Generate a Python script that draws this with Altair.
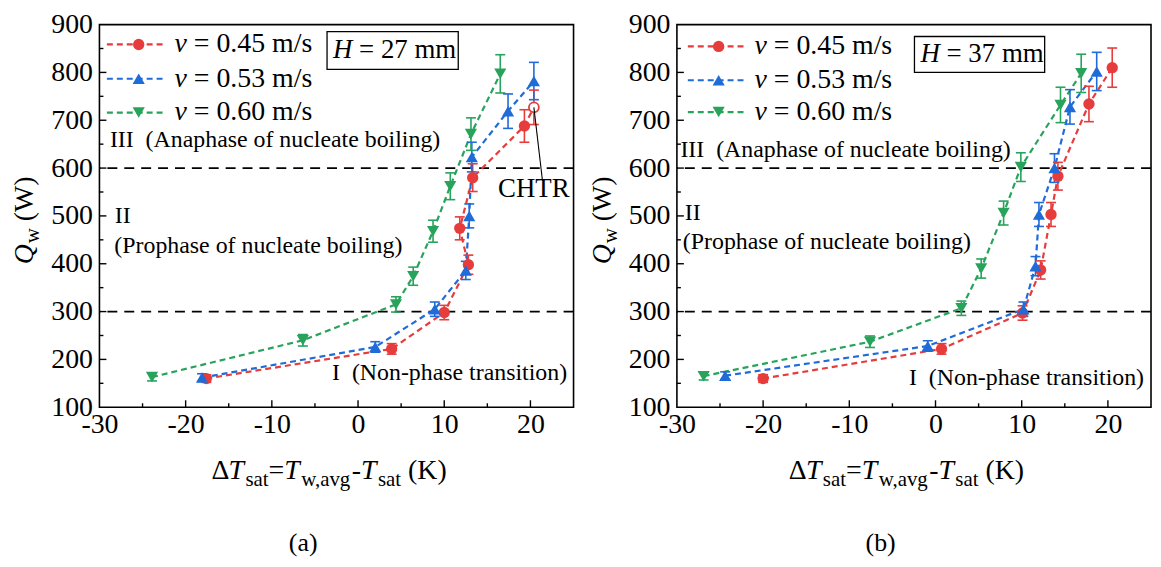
import altair as alt
import pandas as pd

FONT = "Liberation Serif"

SPEEDS = ["0.45", "0.53", "0.60"]
COLORS = ["#e63c3c", "#1f6bd8", "#27a35b"]
SHAPES = ["circle", "triangle-up", "triangle-down"]

# ---------------- (a) H = 27 mm ----------------
A_DT_045 = [-17.6, 3.9, 10.0, 12.8, 11.8, 13.3, 19.3, 20.4]
A_Q_045 = [160, 222, 298, 398, 474, 580, 688, 727]
A_ERR_045 = [8, 11, 15, 20, 24, 29, 34, 36]
A_OPEN_045 = [0, 0, 0, 0, 0, 0, 0, 1]   # last point = CHTR (open symbol)

A_DT_053 = [-18.1, 2.0, 8.9, 12.5, 12.9, 13.2, 17.4, 20.4]
A_Q_053 = [162, 226, 305, 386, 500, 623, 719, 782]
A_ERR_053 = [8, 11, 15, 19, 25, 31, 36, 39]

A_DT_060 = [-23.9, -6.4, 4.4, 6.4, 8.7, 10.7, 13.1, 16.5]
A_Q_060 = [163, 240, 315, 374, 468, 562, 671, 797]
A_ERR_060 = [8, 12, 16, 19, 23, 28, 34, 40]

# ---------------- (b) H = 37 mm ----------------
B_DT_045 = [-20.0, 0.7, 10.1, 12.2, 13.4, 14.2, 17.8, 20.5]
B_Q_045 = [160, 222, 297, 387, 503, 583, 734, 810]
B_ERR_045 = [8, 11, 15, 19, 25, 29, 37, 41]

B_DT_053 = [-24.4, -0.9, 10.2, 11.6, 12.0, 13.8, 15.6, 18.7]
B_Q_053 = [166, 228, 305, 395, 503, 600, 728, 802]
B_ERR_053 = [8, 11, 15, 20, 25, 30, 36, 40]

B_DT_060 = [-26.9, -7.6, 3.0, 5.3, 7.9, 9.9, 14.5, 16.9]
B_Q_060 = [165, 237, 307, 390, 506, 602, 732, 798]
B_ERR_060 = [8, 12, 15, 20, 25, 30, 37, 40]

# axes
X_DOMAIN = [-30, 25]
Y_DOMAIN = [100, 900]
X_LABELS = [-30, -20, -10, 0, 10, 20]
Y_LABELS = [100, 200, 300, 400, 500, 600, 700, 800, 900]
X_MAJOR = [-20, -10, 0, 10, 20]
X_MINOR = [-25, -15, -5, 5, 15]
Y_MAJOR = [200, 300, 400, 500, 600, 700, 800]
Y_MINOR = [150, 250, 350, 450, 550, 650, 750, 850]
BOUNDARIES = [300, 600]

REGION_III = "III\u00a0\u00a0(Anaphase of nucleate boiling)"
REGION_II = "II"
REGION_II_SUB = "(Prophase of nucleate boiling)"
REGION_I = "I\u00a0\u00a0(Non-phase transition)"
CHTR = "CHTR"

W, H = 477, 385
MAIN = 28
SUB = 21
MSIZE = {"circle": 130, "triangle-up": 150, "triangle-down": 150}

DUMMY = pd.DataFrame({"d": [0]})

REG_W = {"Δ": .612, " ": .25, "\u00a0": .25, "(": .333, ")": .333, "-": .333, "=": .564,
         ",": .25, "K": .722, "W": .944, "s": .389, "a": .444, "t": .278, "w": .722,
         "v": .5, "g": .5, "m": .778, "/": .278, ".": .25, "0": .5, "1": .5, "2": .5,
         "3": .5, "4": .5, "5": .5, "6": .5, "7": .5, "8": .5, "9": .5}
IT_W = {"T": .556, "Q": .722, "H": .722, "v": .444}


def tw(s, size, italic=False):
    tab = IT_W if italic else REG_W
    return sum(tab.get(c, .5) for c in s) * size


def build(dts, qs, errs, opens):
    rows = []
    for sp, xs, ys, es, ops in zip(SPEEDS, dts, qs, errs, opens):
        for i, (x, q, e, o) in enumerate(zip(xs, ys, es, ops)):
            rows.append(dict(speed=sp, dT=x, Q=q, lo=q - e, hi=q + e, i=i, open=o))
    return pd.DataFrame(rows)


SX = alt.Scale(domain=X_DOMAIN, nice=False, zero=False)
SY = alt.Scale(domain=Y_DOMAIN, nice=False, zero=False)
AX_X = alt.Axis(values=X_LABELS, ticks=False, tickSize=0, domain=False, grid=False,
                labelFont=FONT, labelFontSize=MAIN, labelColor="black", labelPadding=3,
                labelFlush=False, labelOverlap=False, labelExpr="'' + datum.value", title=None)
AX_Y = alt.Axis(values=Y_LABELS, ticks=False, tickSize=0, domain=False, grid=False,
                labelFont=FONT, labelFontSize=MAIN, labelColor="black", labelPadding=7,
                labelOverlap=False, labelExpr="'' + datum.value", title=None)


def X(f):
    return alt.X(f, type="quantitative", scale=SX, axis=AX_X)


def Y(f):
    return alt.Y(f, type="quantitative", scale=SY, axis=AX_Y)


COLOR = alt.Color("speed:N", scale=alt.Scale(domain=SPEEDS, range=COLORS), legend=None)
SHAPE = alt.Shape("speed:N", scale=alt.Scale(domain=SPEEDS, range=SHAPES), legend=None)


def text(txt, x, y, size, italic=False, align="left", baseline="middle", angle=None):
    m = dict(text=txt, font=FONT, fontSize=size, color="black", align=align, baseline=baseline)
    if italic:
        m["fontStyle"] = "italic"
    if angle is not None:
        m["angle"] = angle
    return alt.Chart(DUMMY).mark_text(**m).encode(x=alt.value(x), y=alt.value(y))


def panel(df, cfg):
    base = alt.Chart(df)
    layers = []
    layers.append(alt.Chart(pd.DataFrame({"Q": BOUNDARIES})).mark_rule(
        color="black", strokeDash=[10, 7], strokeWidth=1.8).encode(y=Y("Q")))
    layers.append(base.mark_line(strokeDash=[6, 4], strokeWidth=2.2).encode(
        x=X("dT"), y=Y("Q"), color=COLOR, detail="speed:N", order="i:Q"))
    layers.append(base.mark_rule(strokeWidth=1.6).encode(
        x=X("dT"), y=Y("lo"), y2="hi:Q", color=COLOR))
    for f in ["lo", "hi"]:
        layers.append(base.mark_tick(orient="horizontal", size=10, thickness=1.6, opacity=1).encode(
            x=X("dT"), y=Y(f), color=COLOR))
    for sp, c, s in zip(SPEEDS, COLORS, SHAPES):
        layers.append(base.transform_filter(f"datum.open == 0 && datum.speed == '{sp}'").mark_point(
            filled=True, shape=s, size=MSIZE[s], opacity=1, color=c).encode(x=X("dT"), y=Y("Q")))
    layers.append(base.transform_filter("datum.open == 1").mark_point(
        filled=False, fill="white", shape="circle", size=100, strokeWidth=1.8, opacity=1,
        color=COLORS[0]).encode(x=X("dT"), y=Y("Q")))

    # CHTR pointer
    if cfg.get("chtr"):
        op = df[df["open"] == 1].iloc[0]
        arr = pd.DataFrame({"dT": [op["dT"]], "Q": [op["Q"]],
                            "dT2": [cfg["chtr_end"][0]], "Q2": [cfg["chtr_end"][1]]})
        layers.append(alt.Chart(arr).mark_rule(color="black", strokeWidth=1.1).encode(
            x=X("dT"), y=Y("Q"), x2="dT2:Q", y2="Q2:Q"))
        layers.append(text(CHTR, cfg["chtr_xy"][0], cfg["chtr_xy"][1], 27, align="center"))

    # ticks (inward)
    layers.append(alt.Chart(pd.DataFrame({"dT": X_MAJOR})).mark_rule(color="black", strokeWidth=1.4).encode(
        x=X("dT"), y=alt.value(H), y2=alt.value(H - 7)))
    layers.append(alt.Chart(pd.DataFrame({"dT": X_MINOR})).mark_rule(color="black", strokeWidth=1.4).encode(
        x=X("dT"), y=alt.value(H), y2=alt.value(H - 4)))
    layers.append(alt.Chart(pd.DataFrame({"Q": Y_MAJOR})).mark_rule(color="black", strokeWidth=1.4).encode(
        y=Y("Q"), x=alt.value(0), x2=alt.value(7)))
    layers.append(alt.Chart(pd.DataFrame({"Q": Y_MINOR})).mark_rule(color="black", strokeWidth=1.4).encode(
        y=Y("Q"), x=alt.value(0), x2=alt.value(4)))

    # region labels
    layers.append(text(REGION_III, cfg["III"][0], cfg["III"][1], 24))
    layers.append(text(REGION_II, cfg["II"][0], cfg["II"][1], 24))
    layers.append(text(REGION_II_SUB, cfg["IIs"][0], cfg["IIs"][1], 24))
    layers.append(text(REGION_I, cfg["I"][0], cfg["I"][1], 24, align="right"))

    # legend
    lx0, lx1, lxm, ltx = cfg["leg_x"]
    for k, (sp, c, s) in enumerate(zip(SPEEDS, COLORS, SHAPES)):
        ly = cfg["leg_y"][k]
        layers.append(alt.Chart(DUMMY).mark_rule(color=c, strokeDash=[6, 4], strokeWidth=2.2).encode(
            x=alt.value(lx0), x2=alt.value(lx1), y=alt.value(ly)))
        layers.append(alt.Chart(DUMMY).mark_point(filled=True, shape=s, size=MSIZE[s], color=c, opacity=1).encode(
            x=alt.value(lxm), y=alt.value(ly)))
        layers.append(text("v", ltx, ly, MAIN, italic=True))
        layers.append(text("= " + sp + " m/s", ltx + tw("v", MAIN, True) + tw(" ", MAIN), ly, MAIN))

    # H box
    bx0, bx1, by0, by1 = cfg["box"]
    layers.append(alt.Chart(DUMMY).mark_rect(fill="white", fillOpacity=0, stroke="black", strokeWidth=1.3).encode(
        x=alt.value(bx0), x2=alt.value(bx1), y=alt.value(by0), y2=alt.value(by1)))
    htx = bx0 + 6
    layers.append(text("H", htx, cfg["box_ty"], 27, italic=True))
    layers.append(text("= " + cfg["H"], htx + tw("H", 27, True) + tw(" ", 27), cfg["box_ty"], 27))

    # x title: (text, italic, subscript, extra gap after)
    xp = [("Δ", 0, 0, 0), ("T", 1, 0, 1.5), ("sat", 0, 1, 0), ("=", 0, 0, 0), ("T", 1, 0, 1.5),
          ("w,avg", 0, 1, 0), ("-", 0, 0, 0), ("T", 1, 0, 1.5), ("sat", 0, 1, 7), ("(K)", 0, 0, 0)]
    widths = [tw(t, SUB if s else MAIN, bool(it)) + g for t, it, s, g in xp]
    cx = cfg["xt"][0] - sum(widths) / 2
    for (t, it, s, g), wd in zip(xp, widths):
        layers.append(text(t, cx, cfg["xt"][1] + (7 if s else 0), SUB if s else MAIN,
                           italic=bool(it), baseline="alphabetic"))
        cx += wd

    # y title (rotated)
    yp = [("Q", 1, 0, 1), ("w", 0, 1, 7), ("(W)", 0, 0, 0)]
    widths = [tw(t, SUB if s else MAIN, bool(it)) + g for t, it, s, g in yp]
    cy = cfg["yt"][1] + sum(widths) / 2
    for (t, it, s, g), wd in zip(yp, widths):
        layers.append(text(t, cfg["yt"][0] + (6 if s else 0), cy, SUB if s else MAIN,
                           italic=bool(it), baseline="alphabetic", angle=270))
        cy -= wd

    layers.append(text(cfg["tag"], cfg["tag_xy"][0], cfg["tag_xy"][1], 26, align="center"))

    return alt.layer(*layers).properties(width=W, height=H)


df_a = build([A_DT_045, A_DT_053, A_DT_060], [A_Q_045, A_Q_053, A_Q_060],
             [A_ERR_045, A_ERR_053, A_ERR_060], [A_OPEN_045, [0] * 8, [0] * 8])
df_b = build([B_DT_045, B_DT_053, B_DT_060], [B_Q_045, B_Q_053, B_Q_060],
             [B_ERR_045, B_ERR_053, B_ERR_060], [[0] * 8, [0] * 8, [0] * 8])

cfg_a = dict(H="27 mm", chtr=True, chtr_end=(21.4, 573), chtr_xy=(437, 165),
             III=(10.5, 116), II=(15.5, 193), IIs=(15, 223), I=(470.5, 351),
             leg_x=(7.5, 67.5, 39.5, 75.5), leg_y=[20, 54.5, 88.5],
             box=(229, 361, 7, 45), box_ty=26, xt=(231, 457), yt=(-66.5, 197),
             tag="(a)", tag_xy=(205, 522))
cfg_b = dict(H="37 mm", chtr=False,
             III=(3.5, 126), II=(8, 190), IIs=(6, 219), I=(470, 356),
             leg_x=(11, 70, 42, 78), leg_y=[22, 56, 88],
             box=(239, 370, 12, 48), box_ty=30, xt=(231, 457), yt=(-66.5, 197),
             tag="(b)", tag_xy=(205, 522))

chart = alt.hconcat(panel(df_a, cfg_a), panel(df_b, cfg_b), spacing=12).properties(
    padding={"left": 2, "top": 0, "right": 0, "bottom": 0}
).configure_view(stroke="black", strokeWidth=1.6)

chart.save("out.html", embed_options={"renderer": "svg", "actions": False})
